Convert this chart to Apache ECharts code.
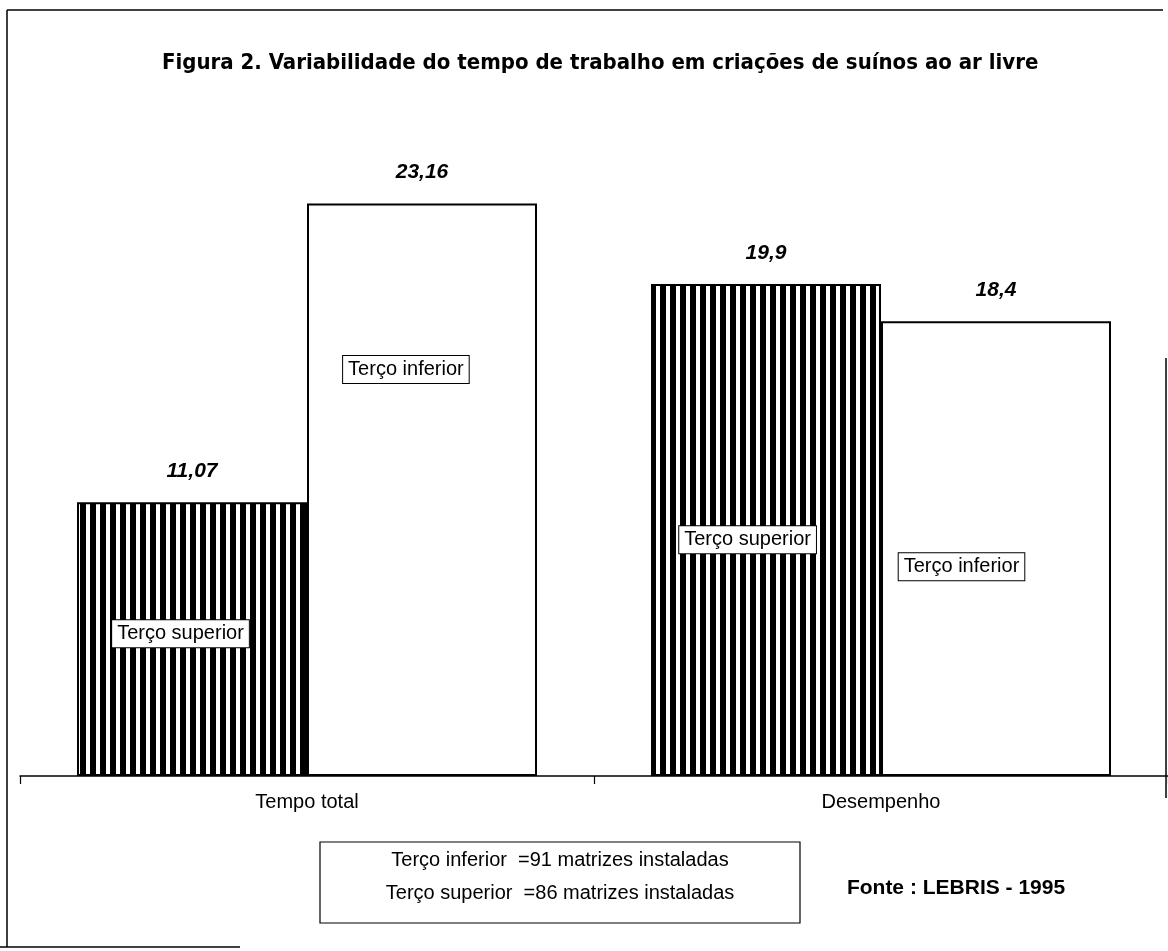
<!DOCTYPE html>
<html>
<head>
<meta charset="utf-8">
<script src="https://cdn.jsdelivr.net/npm/echarts@6/dist/echarts.min.js"></script>
<style>
  html, body { margin: 0; padding: 0; background: #fff; }
  #chart { width: 1168px; height: 951px; }
</style>
</head>
<body>
<div id="chart"></div>
<script>
// dados
const categorias = ['Tempo total', 'Desempenho'];
const tercoSuperior = [11.07, 19.9];
const tercoInferior = [23.16, 18.4];
const nomeSuperior = 'Terço superior';
const nomeInferior = 'Terço inferior';
const legendaLinhas = ['Terço inferior  =91 matrizes instaladas', 'Terço superior  =86 matrizes instaladas'];
const fonte = 'Fonte : LEBRIS - 1995';
const titulo = 'Figura 2. Variabilidade do tempo de trabalho em criações de suínos ao ar livre';

// onde fica a caixa de texto dentro de cada barra (em % da barra)
const posSuperior = [['45%', '48%'], ['42%', '52%']];
const posInferior = [['43%', '29%'], ['35%', '54%']];

const FONT = '"Liberation Sans Narrow", "DejaVu Sans Condensed", "Liberation Sans", sans-serif';
const FONT_REG = '"Liberation Sans", Arial, sans-serif';

// hachura vertical preta
function hachura() {
    const c = document.createElement('canvas');
    c.width = 10;
    c.height = 10;
    const ctx = c.getContext('2d');
    ctx.fillStyle = '#fff';
    ctx.fillRect(0, 0, 10, 10);
    ctx.fillStyle = '#000';
    ctx.fillRect(0, 0, 6, 10);
    return { image: c, repeat: 'repeat' };
}

const fmt = v => String(v).replace('.', ',');

const caixa = {
    show: true,
    color: '#000',
    fontFamily: FONT_REG,
    fontSize: 20,
    backgroundColor: '#fff',
    borderColor: '#000',
    borderWidth: 1,
    padding: [4, 5, 3, 5],
    align: 'center',
    verticalAlign: 'middle'
};

const valorLabel = {
    show: true,
    position: 'top',
    distance: 20,
    color: '#000',
    fontFamily: FONT_REG,
    fontSize: 21,
    fontWeight: 'bold',
    fontStyle: 'italic'
};

function serie(nome, valores, posicoes, cor) {
    return {
        name: nome,
        type: 'bar',
        barWidth: 230,
        barGap: '0%',
        itemStyle: { color: cor, borderColor: '#000', borderWidth: 2 },
        label: Object.assign({}, caixa, { formatter: nome }),
        data: valores.map((v, i) => ({
            value: v,
            label: { position: posicoes[i] }
        })),
        markPoint: {
            symbol: 'rect',
            symbolSize: 1,
            itemStyle: { color: 'rgba(0,0,0,0)' },
            label: Object.assign({}, valorLabel, { formatter: p => fmt(p.value) }),
            data: valores.map((v, i) => ({ coord: [i, v], value: v }))
        },
        silent: true
    };
}

const chart = echarts.init(document.getElementById('chart'));
chart.setOption({
    backgroundColor: '#fff',
    animation: false,
    title: {
        text: titulo,
        left: 157,
        top: 47,
        textStyle: { fontFamily: FONT, fontSize: 22, fontWeight: 'bold', color: '#000' }
    },
    grid: { left: 20, right: 0, top: 158, bottom: 175 },
    xAxis: {
        type: 'category',
        data: categorias,
        axisLine: { show: true, lineStyle: { color: '#000', width: 1.5 } },
        axisTick: { show: true, alignWithLabel: false, interval: 0, length: 8, lineStyle: { color: '#000', width: 1.2 } },
        axisLabel: { color: '#000', fontFamily: FONT_REG, fontSize: 20, margin: 16 }
    },
    yAxis: {
        type: 'value',
        min: 0,
        max: 25,
        show: false,
        splitLine: { show: false }
    },
    series: [
        serie(nomeSuperior, tercoSuperior, posSuperior, hachura()),
        serie(nomeInferior, tercoInferior, posInferior, '#fff')
    ],
    graphic: [
        // moldura
        { type: 'line', shape: { x1: 7, y1: 10, x2: 1163, y2: 10 }, style: { stroke: '#000', lineWidth: 1.5 } },
        { type: 'line', shape: { x1: 7, y1: 10, x2: 7, y2: 947 }, style: { stroke: '#000', lineWidth: 1.5 } },
        { type: 'line', shape: { x1: 0, y1: 947, x2: 240, y2: 947 }, style: { stroke: '#000', lineWidth: 1.5 } },
        { type: 'line', shape: { x1: 1166, y1: 358, x2: 1166, y2: 798 }, style: { stroke: '#000', lineWidth: 1.5 } },
        // caixa da legenda
        {
            type: 'rect',
            shape: { x: 320, y: 842, width: 480, height: 81 },
            style: { fill: '#fff', stroke: '#000', lineWidth: 1.2 }
        },
        {
            type: 'text',
            x: 560, y: 860,
            style: { text: legendaLinhas[0], font: '20px ' + FONT_REG, fill: '#000', align: 'center', verticalAlign: 'middle' }
        },
        {
            type: 'text',
            x: 560, y: 893,
            style: { text: legendaLinhas[1], font: '20px ' + FONT_REG, fill: '#000', align: 'center', verticalAlign: 'middle' }
        },
        {
            type: 'text',
            x: 956, y: 888,
            style: { text: fonte, font: 'bold 21px ' + FONT_REG, fill: '#000', align: 'center', verticalAlign: 'middle' }
        }
    ]
});
</script>
</body>
</html>
